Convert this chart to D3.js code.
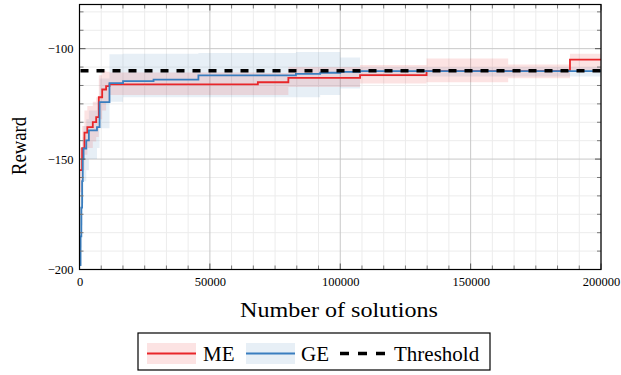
<!DOCTYPE html>
<html><head><meta charset="utf-8">
<script src="https://cdn.jsdelivr.net/npm/d3@7"></script>
<style>body{margin:0;background:#fff}svg{display:block}text{font-family:"Liberation Serif","DejaVu Serif",serif}</style>
</head><body><svg id="c" width="621" height="375"></svg>
<script>
// ---- data ----
const meX  = [0, 1000, 1900, 3000, 5100, 6400, 7400, 8700, 10200, 11500, 68400, 80100, 107600, 133100, 164400, 188100, 200000];
const meY  = [-155, -145, -138, -135.5, -133.3, -131, -122, -118.5, -117, -116.2, -115.2, -113.2, -112, -110.2, -110.2, -105, -105];
const meLo = [-165, -155, -148, -145, -142, -140, -132, -128, -124, -121, -121, -117.4, -115.8, -115.2, -113.4, -109.8, -109.8];
const meHi = [-145, -135, -128, -126, -124, -122, -112, -110, -110.5, -110.8, -111, -108.3, -107.4, -104.5, -107.2, -102.3, -102.3];

const geX  = [0, 400, 700, 1000, 1250, 1550, 2600, 3600, 6700, 7700, 11500, 16700, 28400, 45600, 83000, 92300, 100000, 107600, 200000];
const geY  = [-198, -185, -172, -160, -150, -145.2, -141.5, -137, -135.5, -124.2, -115.6, -114.7, -114, -112.1, -111.4, -110.9, -110.5, -110.2, -110.2];
const geLo = [-200, -198, -190, -180, -170, -160, -155, -150, -145, -136, -124, -122, -122, -122, -122, -121, -118, -112.6, -112.6];
const geHi = [-185, -172, -160, -150, -140, -135, -132, -128, -124, -113.5, -102.5, -102.3, -102.3, -102, -101.5, -101.5, -104, -108.4, -108.4];

const threshold = -110;
const xTicks = [0, 50000, 100000, 150000, 200000];
const xTickLabels = ["0", "50000", "100000", "150000", "200000"];
const yTicks = [-200, -150, -100];
const yTickLabels = ["\u2212200", "\u2212150", "\u2212100"];
const legendLabels = ["ME", "GE", "Threshold"];

// ---- layout ----
const svg = d3.select("#c");
const L = 79.5, R = 601, T = 4.5, B = 269.5;
const x = d3.scaleLinear().domain([0, 200000]).range([L, R]);
const y = d3.scaleLinear().domain([-200, -80]).range([B, T]);

const xMinor = d3.range(0, 200001, 50000/6).filter(v => !xTicks.some(t => Math.abs(t - v) < 1));
const yMinor = d3.range(-200, -80, 50/6).filter(v => !yTicks.some(t => Math.abs(t - v) < 0.01));

const g = svg.append("g");
// minor grid
g.selectAll(".mgx").data(xMinor).join("line").attr("x1", d => x(d)).attr("x2", d => x(d)).attr("y1", T).attr("y2", B)
  .attr("stroke", "#ececec").attr("stroke-width", 1);
g.selectAll(".mgy").data(yMinor).join("line").attr("y1", d => y(d)).attr("y2", d => y(d)).attr("x1", L).attr("x2", R)
  .attr("stroke", "#ececec").attr("stroke-width", 1);
// major grid
g.selectAll(".Mgx").data(xTicks).join("line").attr("x1", d => x(d)).attr("x2", d => x(d)).attr("y1", T).attr("y2", B)
  .attr("stroke", "#c8c8c8").attr("stroke-width", 1);
g.selectAll(".Mgy").data(yTicks).join("line").attr("y1", d => y(d)).attr("y2", d => y(d)).attr("x1", L).attr("x2", R)
  .attr("stroke", "#c8c8c8").attr("stroke-width", 1);

// bands and lines
const zipBand = (xs, lo, hi) => xs.map((v, i) => ({x: v, lo: lo[i], hi: hi[i]}));
const zipLine = (xs, ys) => xs.map((v, i) => ({x: v, y: ys[i]}));
const area = d3.area().curve(d3.curveStepAfter).x(d => x(d.x)).y0(d => y(d.lo)).y1(d => y(d.hi));
const line = d3.line().curve(d3.curveStepAfter).x(d => x(d.x)).y(d => y(d.y));

g.append("path").datum(zipBand(geX, geLo, geHi)).attr("d", area).attr("fill", "#377eb8").attr("fill-opacity", 0.12);
g.append("path").datum(zipBand(meX, meLo, meHi)).attr("fill", "#e41a1c").attr("fill-opacity", 0.12).attr("d", area);
g.append("path").datum(zipLine(meX, meY)).attr("d", line).attr("fill", "none").attr("stroke", "#e8262a").attr("stroke-width", 1.8);
g.append("path").datum(zipLine(geX, geY)).attr("d", line).attr("fill", "none").attr("stroke", "#3a7ebf").attr("stroke-width", 1.8);

// threshold
g.append("line").attr("x1", x(0)).attr("x2", x(200000)).attr("y1", y(threshold)).attr("y2", y(threshold))
  .attr("stroke", "#000").attr("stroke-width", 3.5).attr("stroke-dasharray", "8,8").attr("stroke-dashoffset", -1);

// ticks (inside)
function ticks(vals, len, color) {
  g.append("g").selectAll("line").data(vals).join("line")
    .attr("x1", d => x(d)).attr("x2", d => x(d)).attr("y1", B).attr("y2", B - len).attr("stroke", color);
  g.append("g").selectAll("line").data(vals).join("line")
    .attr("x1", d => x(d)).attr("x2", d => x(d)).attr("y1", T).attr("y2", T + len).attr("stroke", color);
}
function yticks(vals, len, color) {
  g.append("g").selectAll("line").data(vals).join("line")
    .attr("y1", d => y(d)).attr("y2", d => y(d)).attr("x1", L).attr("x2", L + len).attr("stroke", color);
  g.append("g").selectAll("line").data(vals).join("line")
    .attr("y1", d => y(d)).attr("y2", d => y(d)).attr("x1", R).attr("x2", R - len).attr("stroke", color);
}
ticks(xMinor, 4, "#777"); ticks(xTicks, 6, "#555");
yticks(yMinor, 4, "#777"); yticks(yTicks, 6, "#555");

// frame
g.append("rect").attr("x", L).attr("y", T).attr("width", R - L).attr("height", B - T)
  .attr("fill", "none").attr("stroke", "#000").attr("stroke-width", 1.2);

// axes labels via d3 axes
const xa = svg.append("g").attr("transform", `translate(0,${B})`)
  .call(d3.axisBottom(x).tickValues(xTicks).tickFormat((d, i) => xTickLabels[i]).tickSize(0).tickPadding(8));
xa.select(".domain").remove();
xa.selectAll("text").attr("font-family", "Liberation Serif").attr("font-size", 12.5).attr("fill", "#000");
const ya = svg.append("g").attr("transform", `translate(${L},0)`)
  .call(d3.axisLeft(y).tickValues(yTicks).tickFormat((d, i) => yTickLabels[i]).tickSize(0).tickPadding(6));
ya.select(".domain").remove();
ya.selectAll("text").attr("font-family", "Liberation Serif").attr("font-size", 12.5).attr("fill", "#000");

svg.append("text").attr("x", 339).attr("y", 317).attr("text-anchor", "middle")
  .attr("font-size", 22).attr("textLength", 198).attr("lengthAdjust", "spacingAndGlyphs").text("Number of solutions");
svg.append("text").attr("transform", "translate(26,146) rotate(-90)").attr("text-anchor", "middle")
  .attr("font-size", 22).attr("textLength", 58).attr("lengthAdjust", "spacingAndGlyphs").text("Reward");

// legend
const lg = svg.append("g");
lg.append("rect").attr("x", 138).attr("y", 333).attr("width", 352).attr("height", 37)
  .attr("fill", "#fff").attr("stroke", "#000").attr("stroke-width", 1.2);
const items = [
  {x0: 147, w: 49, color: "#e8262a", fill: "#e41a1c", tx: 203, dash: null},
  {x0: 246, w: 49, color: "#3a7ebf", fill: "#377eb8", tx: 301, dash: null},
  {x0: 340, w: 45, color: "#000", fill: null, tx: 394, dash: "9,9"}
];
items.forEach((it, i) => {
  if (it.fill) lg.append("rect").attr("x", it.x0).attr("y", 343).attr("width", it.w).attr("height", 21)
    .attr("fill", it.fill).attr("fill-opacity", 0.12);
  lg.append("line").attr("x1", it.x0).attr("x2", it.x0 + it.w).attr("y1", 353.5).attr("y2", 353.5)
    .attr("stroke", it.color).attr("stroke-width", it.dash ? 3.5 : 1.8).attr("stroke-dasharray", it.dash);
  lg.append("text").attr("x", it.tx).attr("y", 360.5).attr("font-size", 21).text(legendLabels[i]);
});
</script></body></html>
